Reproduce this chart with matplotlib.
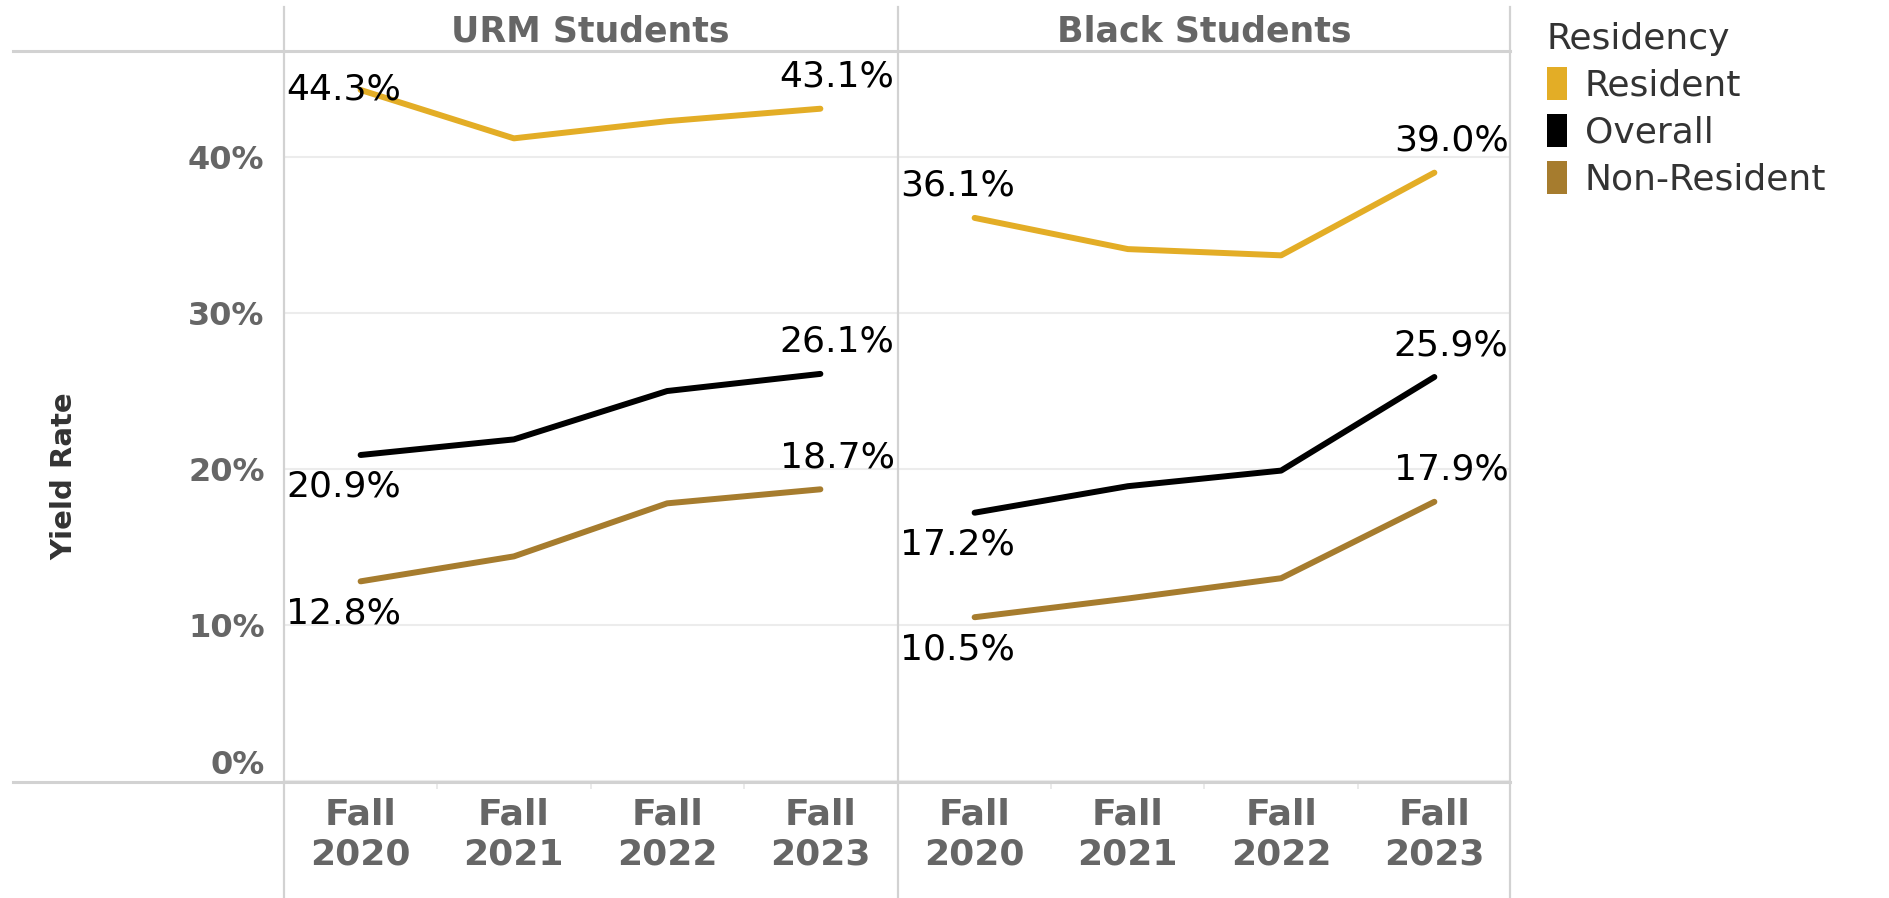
import matplotlib
matplotlib.use("Agg")
from matplotlib import pyplot as plt
from matplotlib.lines import Line2D
from matplotlib.patches import Patch
from matplotlib.ticker import FuncFormatter

# data (yield rate, fraction)
years = ["Fall\n2020", "Fall\n2021", "Fall\n2022", "Fall\n2023"]
panels = ["URM Students", "Black Students"]
series = ["Resident", "Overall", "Non-Resident"]

urm_resident = [0.443, 0.412, 0.423, 0.431]
urm_overall = [0.209, 0.219, 0.250, 0.261]
urm_nonres = [0.128, 0.144, 0.178, 0.187]

black_resident = [0.361, 0.341, 0.337, 0.390]
black_overall = [0.172, 0.189, 0.199, 0.259]
black_nonres = [0.105, 0.117, 0.130, 0.179]

panel_data = {
    "URM Students": [urm_resident, urm_overall, urm_nonres],
    "Black Students": [black_resident, black_overall, black_nonres],
}

colors = {"Resident": "#E3AD26", "Overall": "#000000", "Non-Resident": "#A67C2E"}
first_below = {"Resident": False, "Overall": True, "Non-Resident": True}

gray = "#666666"
line_gray = "#d2d2d2"
ymax = 0.468

W, H = 1890, 898
fig = plt.figure(figsize=(W / 100, H / 100), dpi=100)

# panel rectangles in pixels: left, right, bottom, top
px_left = [284, 898]
px_w = 613
px_bottom, px_top = 781, 51

axes = []
for i, name in enumerate(panels):
    ax = fig.add_axes([px_left[i] / W, 1 - px_bottom / H, px_w / W, (px_bottom - px_top) / H])
    axes.append(ax)
    x = list(range(len(years)))
    for s, vals in zip(series, panel_data[name]):
        ax.plot(x, vals, color=colors[s], lw=4.3, solid_capstyle="round", zorder=3)

        # first point label
        off = -23 if first_below[s] else 23
        if not first_below[s] and vals[0] + 0.03 > ymax:
            off = 0
        ax.annotate("%.1f%%" % (vals[0] * 100), xy=(0.004, vals[0]),
                    xycoords=("axes fraction", "data"), xytext=(0, off),
                    textcoords="offset points", ha="left", va="center",
                    fontsize=26, color="black")
        # last point label
        ax.annotate("%.1f%%" % (vals[-1] * 100), xy=(0.996, vals[-1]),
                    xycoords=("axes fraction", "data"), xytext=(0, 23),
                    textcoords="offset points", ha="right", va="center",
                    fontsize=26, color="black")

    ax.set_xlim(-0.5, len(years) - 0.5)
    ax.set_ylim(0, ymax)
    ax.set_yticks([0, 0.1, 0.2, 0.3, 0.4])
    ax.yaxis.set_major_formatter(FuncFormatter(lambda v, p: "%d%%" % round(v * 100)))
    ax.set_xticks(x)
    ax.set_xticklabels(years, fontsize=26, fontweight="bold", color=gray, linespacing=1.2)
    ax.set_xticks([0.5, 1.5, 2.5], minor=True)
    ax.tick_params(axis="x", which="major", length=0, pad=12)
    ax.tick_params(axis="x", which="minor", length=6, color="#e6e6e6", width=1.2)
    ax.tick_params(axis="y", length=0, pad=14, labelsize=23, labelcolor=gray)
    for t in ax.get_yticklabels():
        t.set_fontweight("bold")
    ax.grid(axis="y", color="#ececec", lw=1.5)
    ax.set_axisbelow(True)
    for sp in ax.spines.values():
        sp.set_visible(False)
    if i > 0:
        ax.tick_params(axis="y", labelleft=False)
    else:
        ax.get_yticklabels()[0].set_va("bottom")

    ax.annotate(name, xy=(0.5, 1), xycoords="axes fraction", xytext=(0, 14),
                textcoords="offset points", ha="center", va="center",
                fontsize=25, fontweight="bold", color=gray)

# frame lines of the table layout
for xp in [284, 898, 1510]:
    fig.add_artist(Line2D([xp / W, xp / W], [0, 1 - 7 / H], color=line_gray, lw=1.6))
for yp in [51, 782]:
    fig.add_artist(Line2D([13 / W, 1510 / W], [1 - yp / H, 1 - yp / H], color=line_gray, lw=2.2))

fig.text(0.034, 1 - 476 / H, "Yield Rate", rotation=90, ha="center", va="center",
         fontsize=21, fontweight="bold", color="#333333")

handles = [Patch(facecolor=colors[s], edgecolor="none") for s in series]
leg = fig.legend(handles, series, title="Residency", loc="upper left",
                 bbox_to_anchor=(1547 / W, 1 - 22 / H), frameon=False,
                 fontsize=26, title_fontsize=26, handlelength=0.55, handleheight=1.05,
                 handletextpad=0.5, labelspacing=0.3, borderaxespad=0, borderpad=0)
leg._legend_box.align = "left"
leg.get_title().set_color("#333333")
for t in leg.get_texts():
    t.set_color("#333333")

fig.savefig("out.png", dpi=100)
